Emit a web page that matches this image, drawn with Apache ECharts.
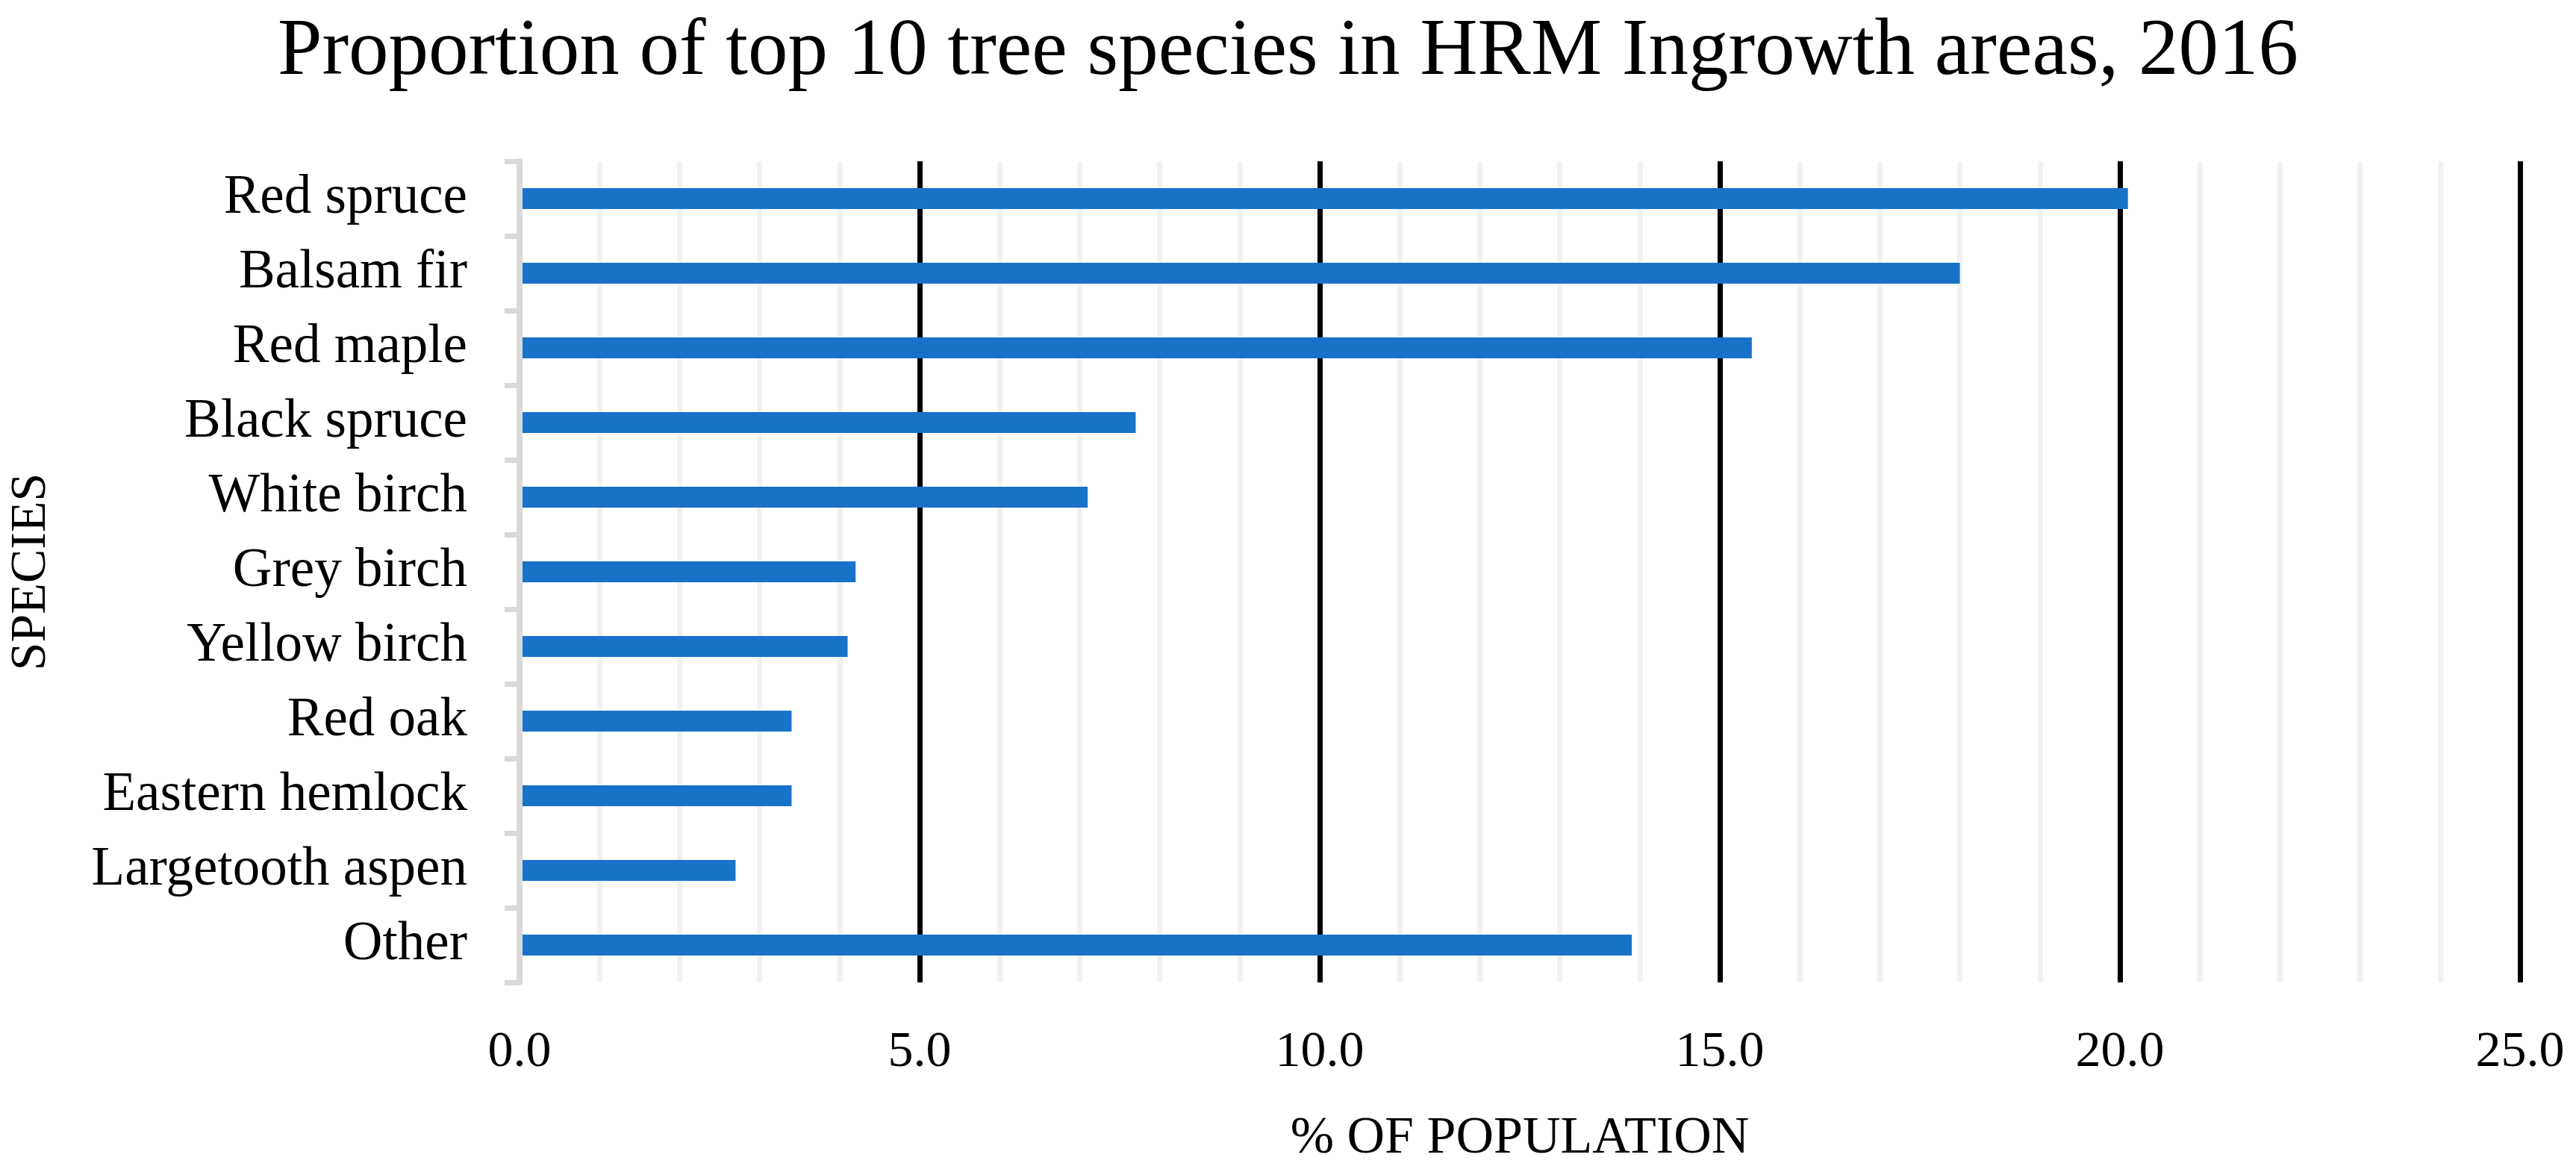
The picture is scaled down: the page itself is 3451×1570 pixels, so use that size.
<!DOCTYPE html>
<html>
<head>
<meta charset="utf-8">
<title>Proportion of top 10 tree species</title>
<script src="https://cdn.jsdelivr.net/npm/echarts@6/dist/echarts.min.js"></script>
<style>
  html, body { margin: 0; padding: 0; background: #fff; }
  #chart { width: 3451px; height: 1570px; }
</style>
</head>
<body>
<div id="chart"></div>
<script>
const species = [
  "Red spruce", "Balsam fir", "Red maple", "Black spruce", "White birch",
  "Grey birch", "Yellow birch", "Red oak", "Eastern hemlock", "Largetooth aspen", "Other",
];
const shares = [20.1, 18.0, 15.4, 7.7, 7.1, 4.2, 4.1, 3.4, 3.4, 2.7, 13.9];

const FONT = "'Liberation Serif', 'DejaVu Serif', serif";
const chart = echarts.init(document.getElementById("chart"));

chart.setOption({
  backgroundColor: "#ffffff",
  animation: false,
  title: {
    text: "Proportion of top 10 tree species in HRM Ingrowth areas, 2016",
    left: "center",
    top: 12,
    textStyle: { fontFamily: FONT, fontSize: 107, fontWeight: "normal", color: "#000" },
  },
  grid: { left: 696, right: 75, top: 216, bottom: 254 },
  xAxis: {
    type: "value",
    min: 0,
    max: 25,
    interval: 5,
    name: "% OF POPULATION",
    nameLocation: "middle",
    nameGap: 175,
    nameTextStyle: { fontFamily: FONT, fontSize: 70, color: "#000" },
    axisLine: { show: false },
    axisTick: { show: false },
    axisLabel: {
      margin: 60,
      fontFamily: FONT,
      fontSize: 68,
      color: "#000",
      formatter: (v) => v.toFixed(1),
    },
    splitLine: { show: true, showMinLine: false, lineStyle: { color: "#000", width: 7 } },
    minorTick: { show: false, splitNumber: 5 },
    minorSplitLine: { show: true, lineStyle: { color: "#f2f2f2", width: 7 } },
  },
  yAxis: {
    type: "category",
    data: species,
    inverse: true,
    z: 5,
    name: "SPECIES",
    nameLocation: "middle",
    nameRotate: 90,
    nameGap: 620,
    nameTextStyle: { fontFamily: FONT, fontSize: 68, color: "#000" },
    axisLine: { show: true, lineStyle: { color: "#d9d9d9", width: 8 } },
    axisTick: { show: true, length: 20, lineStyle: { color: "#d9d9d9", width: 7 } },
    axisLabel: { margin: 70, fontFamily: FONT, fontSize: 73, color: "#000" },
    splitLine: { show: false },
  },
  series: [
    {
      type: "bar",
      data: shares,
      barWidth: 28,
      itemStyle: { color: "#1873c8" },
    },
  ],
});
</script>
</body>
</html>
